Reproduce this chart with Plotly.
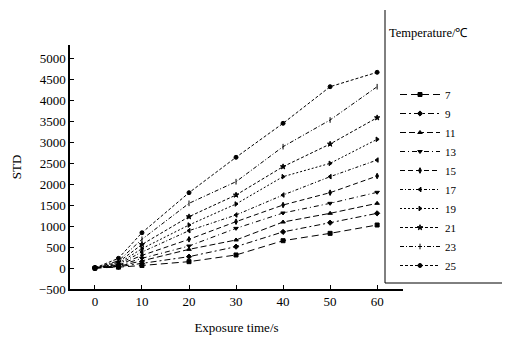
import plotly.graph_objects as go

exposure_time = [0, 5, 10, 20, 30, 40, 50, 60]
temperatures = ["7", "9", "11", "13", "15", "17", "19", "21", "23", "25"]

std_7 = [0, 20, 60, 151, 310, 650, 825, 1024]
std_9 = [0, 30, 110, 270, 508, 860, 1079, 1302]
std_11 = [0, 40, 170, 444, 667, 1095, 1302, 1540]
std_13 = [0, 55, 230, 524, 944, 1310, 1540, 1802]
std_15 = [0, 70, 300, 683, 1103, 1500, 1794, 2190]
std_17 = [0, 90, 380, 889, 1262, 1738, 2175, 2571]
std_19 = [0, 110, 460, 1024, 1524, 2175, 2492, 3064]
std_21 = [0, 140, 560, 1222, 1738, 2413, 2952, 3579]
std_23 = [0, 170, 683, 1540, 2055, 2889, 3524, 4317]
std_25 = [0, 230, 840, 1793, 2636, 3445, 4317, 4660]

series = [std_7, std_9, std_11, std_13, std_15, std_17, std_19, std_21, std_23, std_25]

y_ticks = [-500, 0, 500, 1000, 1500, 2000, 2500, 3000, 3500, 4000, 4500, 5000]
x_ticks = [0, 10, 20, 30, 40, 50, 60]

symbols = ["square", "diamond", "triangle-up", "triangle-down", "diamond-tall",
           "triangle-left", "triangle-right", "star", "line-ns-open", "circle"]
dashes = ["7px,4px", "6px,3px,2px,3px", "6px,3px", "5px,3px,1px,3px", "5px,3px",
          "3px,2px,1px,2px", "2px,2px", "3px,2px", "4px,2px,1px,2px", "3px,2px"]

FONT = "Liberation Serif, Times New Roman, serif"

fig = go.Figure()
for name, vals, sym, dash in zip(temperatures, series, symbols, dashes):
    fig.add_trace(go.Scatter(
        x=exposure_time, y=vals, name=name, mode="lines+markers",
        line=dict(color="black", width=1, dash=dash),
        marker=dict(symbol=sym, size=4, color="black",
                    line=dict(color="black", width=1)),
    ))

# page offset (body margin) of the rendered page
OFF = 8
W, H = 510, 338
# plot area in page pixels: x 70..403, y 45..289
L = 70 - OFF
T = 45 - OFF
R = W - (403 - OFF)
B = H - (289 - OFF)
pw, ph = W - L - R, H - T - B

def px_x(p):
    return (p - OFF - L) / pw

def px_y(p):
    return (H - B - (p - OFF)) / ph

fig.update_layout(
    width=W, height=H,
    margin=dict(l=L, r=R, t=T, b=B, autoexpand=False),
    paper_bgcolor="white", plot_bgcolor="white",
    font=dict(family=FONT, size=13, color="black"),
    showlegend=True,
    legend=dict(x=px_x(395), y=px_y(80), xanchor="left", yanchor="top",
                bgcolor="rgba(0,0,0,0)", font=dict(family=FONT, size=11),
                itemwidth=40, tracegroupgap=0),
    xaxis=dict(range=[-5.3, 65.5], tickvals=x_ticks, ticks="inside", ticklen=4,
               showline=True, linecolor="black", linewidth=1.5, showgrid=False,
               zeroline=False, tickcolor="black",
               title=dict(text="Exposure time/s", font=dict(size=13), standoff=15)),
    yaxis=dict(range=[-500, 5310], tickvals=y_ticks, ticks="inside", ticklen=4,
               showline=True, linecolor="black", linewidth=1.5, showgrid=False,
               zeroline=False, tickcolor="black",
               title=dict(text="STD", font=dict(size=13), standoff=14)),
    shapes=[
        dict(type="line", xref="paper", yref="paper",
             x0=px_x(385), x1=px_x(385), y0=px_y(283), y1=px_y(10),
             line=dict(color="black", width=1)),
        dict(type="line", xref="paper", yref="paper",
             x0=px_x(385), x1=px_x(520), y0=px_y(283), y1=px_y(283),
             line=dict(color="black", width=1)),
    ],
    annotations=[
        dict(text="Temperature/℃", xref="paper", yref="paper",
             x=px_x(387), y=px_y(33), xanchor="left", yanchor="middle",
             showarrow=False, font=dict(family=FONT, size=12.5)),
    ],
)

fig.write_html("out.html")
